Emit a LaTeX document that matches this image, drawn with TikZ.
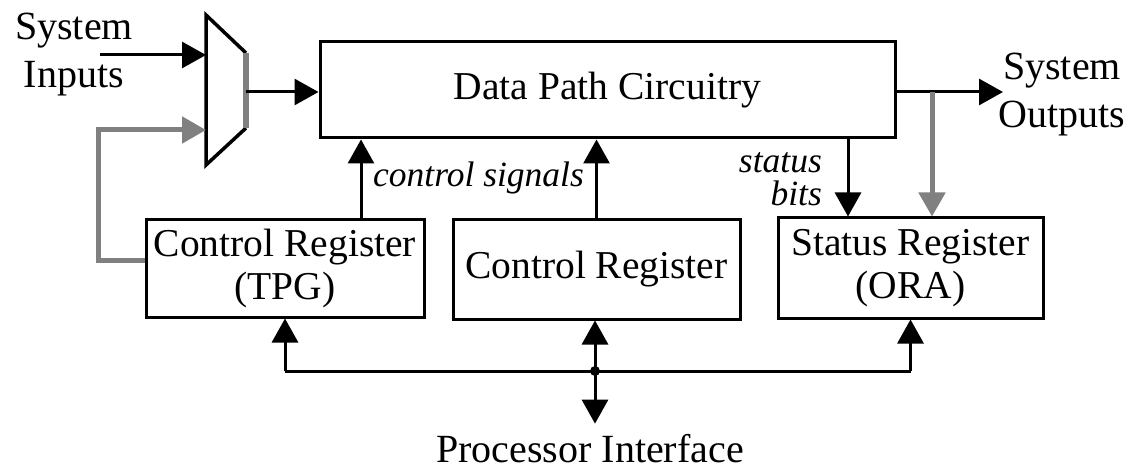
\documentclass[tikz,border=0pt]{standalone}
\usepackage{fontspec}
\setmainfont{Liberation Serif}
\usetikzlibrary{arrows.meta}
\definecolor{fbgray}{RGB}{128,128,128}
\begin{document}
\begin{tikzpicture}[x=1pt,y=-1pt,
  box/.style={draw, line width=3pt, rectangle, inner sep=0pt, align=center,
              font=\fontsize{39.5}{43}\selectfont},
  lbl/.style={inner sep=0pt, align=center, font=\fontsize{40}{48}\selectfont},
  itlbl/.style={inner sep=0pt, font=\fontsize{35.5}{33}\selectfont\itshape},
  arr/.style={line width=3pt, -{Triangle[length=24pt,width=26pt]}},
  garr/.style={line width=5pt, draw=fbgray, -{Triangle[length=24pt,width=26pt,fill=fbgray]}}]
\useasboundingbox[fill=white] (0,0) rectangle (1131,470);

% blocks
\node[box, minimum width=575pt, minimum height=96pt] (dp) at (607.5,90) {Data Path Circuitry};
\node[box, minimum width=278pt, minimum height=97pt] (tpg) at (285,268.5) {Control Register\\(TPG)};
\node[box, minimum width=287pt, minimum height=99pt] (mid) at (596.5,269.5) {\raisebox{6pt}{Control Register}};
\node[box, minimum width=265pt, minimum height=100pt] (sta) at (910.5,268) {Status Register\\(ORA)};

% multiplexer
\coordinate (mtl) at (206,15);
\coordinate (mbl) at (206,165);
\coordinate (mtr) at (246,53);
\coordinate (mbr) at (246,128);
\coordinate (mout) at (246,92);
\draw[line width=3.5pt] (mbr) -- (mbl) -- (mtl) -- (mtr);
\draw[line width=6pt, fbgray] (mtr) -- (mbr);

% labels
\node[lbl] (sin) at (74,55) {System\\Inputs};
\node[lbl] (sout) at (1062,95) {System\\Outputs};
\node[itlbl, anchor=base west] (csig) at (373,187) {control signals};
\node[itlbl, align=right, anchor=east] (sbits) at (822,179) {status\\bits};
\node[lbl, anchor=base] (pif) at (590,462) {Processor Interface};

% inputs to the multiplexer
\coordinate (inA) at (100,55);
\draw[arr] (inA) -- (inA -| mtl);
\coordinate (fbx) at (98,130);
\draw[garr] ([yshift=8pt]tpg.west) -| (fbx) -- (fbx -| mtl);
\draw[arr] (mout) -- (mout -| dp.west);

% control and status lines
\coordinate (cx) at (361,0);
\coordinate (sx) at (848,0);
\coordinate (ox) at (932,0);
\draw[arr] (cx |- tpg.north) -- (cx |- dp.south);
\draw[arr] (mid.north) -- (mid.north |- dp.south);
\draw[arr] (sx |- dp.south) -- (sx |- sta.north);

% outputs
\coordinate (oout) at (1003,92);
\draw[arr] (oout -| dp.east) -- (oout);
\draw[garr] (ox |- oout) -- (ox |- sta.north);

% processor interface bus
\coordinate (bus) at (595,371);
\draw[line width=3pt] (tpg.south |- bus) -- (sta.south |- bus);
\draw[arr] (tpg.south |- bus) -- (tpg.south);
\draw[arr] (bus) -- (bus |- mid.south);
\draw[arr] (sta.south |- bus) -- (sta.south);
\fill (bus) circle (5pt);
\draw[arr] (bus) -- ([yshift=10pt]bus |- pif.north);
\end{tikzpicture}
\end{document}
